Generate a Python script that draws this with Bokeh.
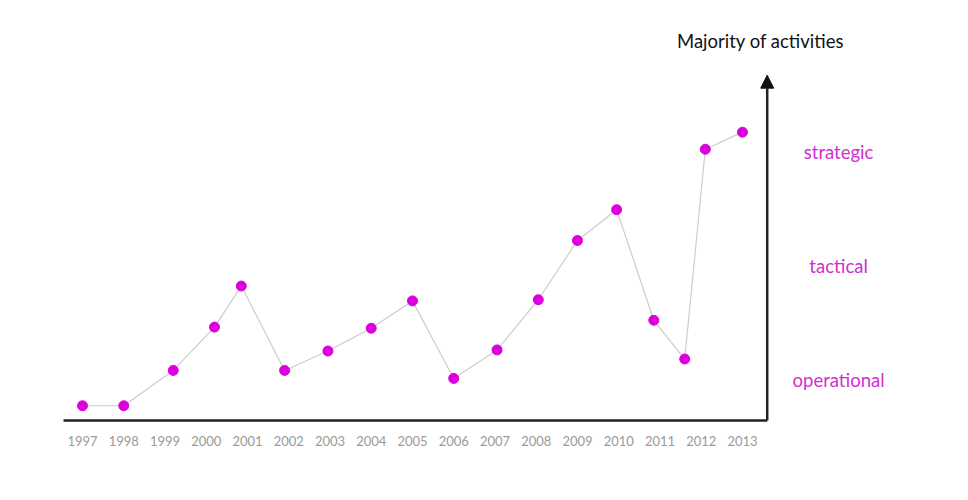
from bokeh.plotting import figure
from bokeh.models import Range1d, Arrow, NormalHead, ColumnDataSource
from bokeh.core.properties import value
from bokeh.embed import file_html
from bokeh.resources import INLINE

# ---- data ----
years = [1997, 1998, 1999.2, 2000.2, 2000.85, 2001.9, 2002.95, 2004, 2005,
         2006, 2007.05, 2008.05, 2009, 2009.95, 2010.85, 2011.6, 2012.1, 2013]
levels = [0.77, 0.77, 1.08, 1.46, 1.82, 1.08, 1.25, 1.45, 1.69,
          1.01, 1.26, 1.70, 2.22, 2.49, 1.52, 1.18, 3.02, 3.17]
tick_years = list(range(1997, 2014))
tick_labels = [str(y) for y in tick_years]
level_names = ["operational", "tactical", "strategic"]
level_values = [1, 2, 3]
title_text = "Majority of activities"

FONT = "Lato"
PINK = "#dc00dc"
LABEL_PINK = "#cf2fcf"

p = figure(width=968, height=500, output_backend="svg", toolbar_location=None,
           x_axis_type=None, y_axis_type=None, min_border=0,
           x_range=Range1d(1995.012, 2018.48), y_range=Range1d(-0.061, 4.325))
p.grid.visible = False
p.outline_line_color = None
p.background_fill_color = "white"
p.border_fill_color = "white"

# axes (decorations)
x_axis_pos = 2013.6
y_base = 0.64
y_top = 3.67
x_left = 1996.54
p.segment(x0=[x_left], y0=[y_base], x1=[x_axis_pos], y1=[y_base],
          line_color="#222222", line_width=2.5)
p.add_layout(Arrow(end=NormalHead(size=13, fill_color="#111111", line_color="#111111"),
                   x_start=x_axis_pos, y_start=y_base, x_end=x_axis_pos, y_end=y_top,
                   line_color="#222222", line_width=2.5))

# series
src = ColumnDataSource(dict(x=years, y=levels))
p.line("x", "y", source=src, line_color="#cccccc", line_width=1.2)
p.scatter("x", "y", source=src, size=10, fill_color=PINK, line_color=PINK)

# year tick labels
p.text(x=tick_years, y=[0.465] * len(tick_years), text=tick_labels,
       text_font=value(FONT), text_font_size="13px", text_color="#9a9a9a",
       text_align="center", text_baseline="middle")

# level labels
p.text(x=[2015.33] * 3, y=level_values, text=level_names,
       text_font=value(FONT), text_font_size="18.5px", text_color=LABEL_PINK,
       text_align="center", text_baseline="middle")

# title
p.text(x=[2013.44], y=[3.97], text=[title_text],
       text_font=value(FONT), text_font_size="18.5px", text_color="#111111",
       text_align="center", text_baseline="middle")

open("out.html", "w").write(file_html(p, INLINE))
